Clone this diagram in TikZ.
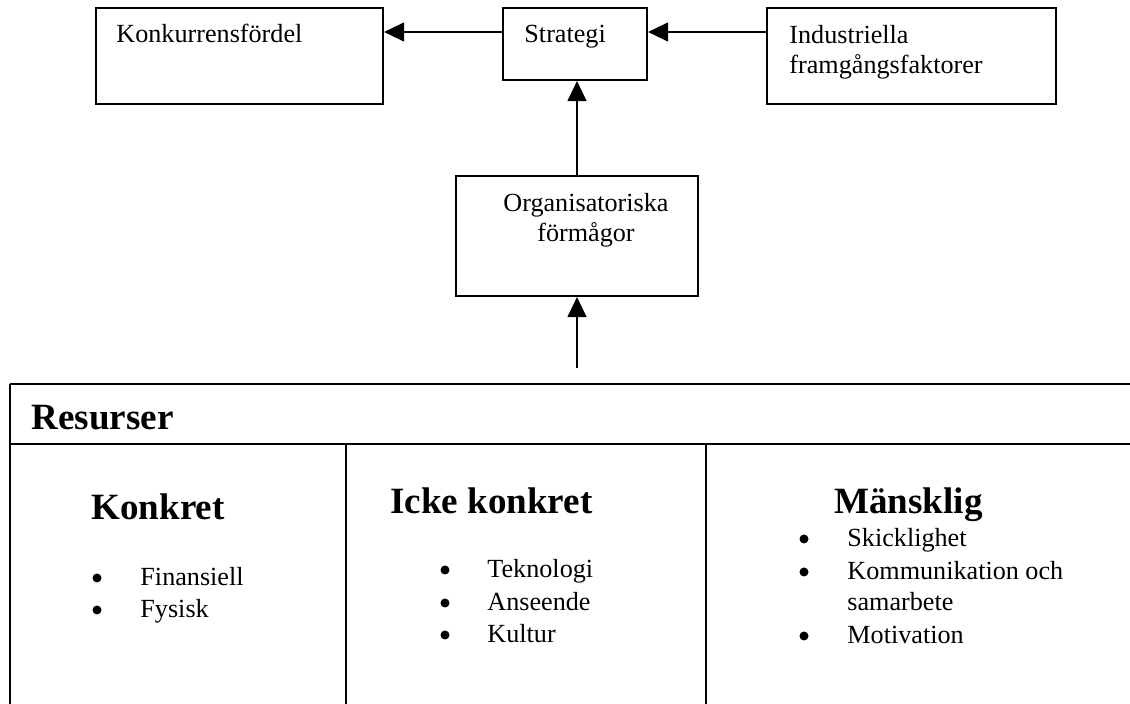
\documentclass[tikz,border=0pt]{standalone}
\usepackage{fontspec}
\setmainfont{Liberation Serif}
\usetikzlibrary{arrows.meta}
\def\pxu{0.4587pt}
\tikzset{
  boxnode/.style={draw, line width=0.92pt, rectangle, inner sep=0pt},
  txt/.style={anchor=base west, inner sep=0pt, font=\fontsize{12}{14}\selectfont},
  ctxt/.style={anchor=base, inner sep=0pt, font=\fontsize{12}{14}\selectfont},
  head/.style={anchor=base west, inner sep=0pt, font=\fontsize{17}{20}\selectfont\bfseries},
  bulc/.style={circle, fill, inner sep=0pt, minimum size=9*\pxu},
  arr/.style={line width=0.92pt, -{Triangle[length=9.2pt,width=8.6pt]}},
  rulel/.style={line width=0.92pt}
}
\begin{document}
\begin{tikzpicture}[x=\pxu, y=-\pxu]
\useasboundingbox (0,0) rectangle (1130,704);
% boxes
\node[boxnode, minimum width=287*\pxu, minimum height=96*\pxu] (K) at (239.5,56) {};
\node[boxnode, minimum width=144*\pxu, minimum height=72*\pxu] (S) at (575,44) {};
\node[boxnode, minimum width=289*\pxu, minimum height=96*\pxu] (I) at (911.5,56) {};
\node[boxnode, minimum width=242*\pxu, minimum height=120*\pxu] (O) at (577,236) {};
% box texts
\node[txt] (Kt) at (116,43) {Konkurrensfördel};
\node[txt] (St) at (524,43) {Strategi};
\node[txt] (It1) at (789,44) {Industriella};
\node[txt] (It2) at (789,74) {framgångsfaktorer};
\node[ctxt] (Ot1) at (586,212) {Organisatoriska};
\node[ctxt] (Ot2) at (586,242) {förmågor};
% connectors
\coordinate (arrowrow) at (0,32);
\coordinate (src) at (577,368);
\draw[arr] (S.west |- arrowrow) -- (K.east |- arrowrow);
\draw[arr] (I.west |- arrowrow) -- (S.east |- arrowrow);
\draw[arr] (O.north) -- (O.north |- S.south);
\draw[arr] (src) -- (O.south);
% table
\coordinate (tl) at (10,384);
\coordinate (hl) at (10,444);
\coordinate (bl) at (10,710);
\coordinate (c1) at (346,444);
\coordinate (c2) at (706,444);
\draw[rulel] (tl) -- (1135,384);
\draw[rulel] (hl) -- (1135,444);
\draw[rulel] (tl) -- (bl);
\draw[rulel] (c1) -- (c1 |- bl);
\draw[rulel] (c2) -- (c2 |- bl);
\node[head] (res) at (31,430) {Resurser};
% column 1
\node[head] (h1) at (91,520) {Konkret};
\node[bulc] (b11) at (97,578) {};
\node[txt] (t11) at (140,586) {Finansiell};
\node[bulc] (b12) at (97,610) {};
\node[txt] (t12) at (140,618) {Fysisk};
% column 2
\node[head] (h2) at (390,514) {Icke konkret};
\node[bulc] (b21) at (445,570) {};
\node[txt] (t21) at (487,578) {Teknologi};
\node[bulc] (b22) at (445,603) {};
\node[txt] (t22) at (487,611) {Anseende};
\node[bulc] (b23) at (445,635) {};
\node[txt] (t23) at (487,643) {Kultur};
% column 3
\node[head] (h3) at (834,514) {Mänsklig};
\node[bulc] (b31) at (804,539) {};
\node[txt] (t31) at (847,547) {Skicklighet};
\node[bulc] (b32) at (804,572) {};
\node[txt] (t32) at (847,580) {Kommunikation och};
\node[txt] (t33) at (847,611) {samarbete};
\node[bulc] (b34) at (804,636) {};
\node[txt] (t34) at (847,644) {Motivation};
\end{tikzpicture}
\end{document}
